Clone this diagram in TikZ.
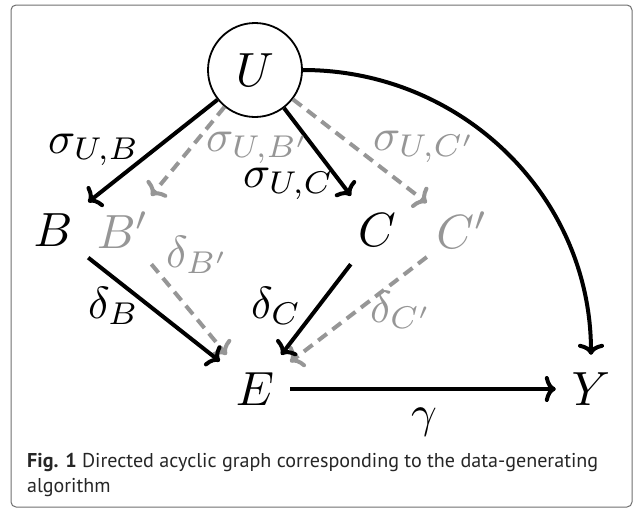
\documentclass[tikz,border=0pt]{standalone}
\usepackage{fontspec}
\newfontfamily\capfont{PT Sans}
\usetikzlibrary{arrows.meta}
\definecolor{lgray}{RGB}{150,150,150}
\definecolor{framecol}{RGB}{110,110,110}
\newcommand{\mtx}[1]{\scalebox{4.8}{$#1$}}
\newcommand{\ltx}[1]{\scalebox{4.5}{$#1$}}
\begin{document}
\begin{tikzpicture}[x=1pt,y=-1pt,
  every node/.style={font=\fontsize{10}{12}\selectfont},
  var/.style={rectangle, minimum width=70pt, minimum height=68pt, inner sep=0pt},
  gvar/.style={var, text=lgray},
  lab/.style={inner sep=0pt, anchor=base west},
  glab/.style={lab, text=lgray},
  tip/.style={-{Computer Modern Rightarrow[length=11pt,width=26pt]}},
  solidarr/.style={line width=4pt, tip},
  dasharr/.style={line width=4pt, lgray, dash pattern=on 11pt off 7pt, tip},
  capstyle/.style={anchor=base west, inner sep=0pt, text=black!85, font=\capfont\fontsize{20}{24}\selectfont},
]
\useasboundingbox (0,0) rectangle (633,509);
\draw[framecol, line width=1pt, rounded corners=5pt] (11,5) rectangle (632,507);

\node[circle, draw, line width=1.8pt, minimum size=94pt, inner sep=0pt] (U) at (255,70) {\mtx{U}};
\node[var] (B) at (53,230) {\mtx{B}};
\node[gvar] (Bp) at (123,230) {\mtx{B'}};
\node[var] (C) at (377,230) {\mtx{C}};
\node[gvar] (Cp) at (462,230) {\mtx{C'}};
\node[var] (E) at (255,389) {\mtx{E}};
\node[var] (Y) at (591,389) {\mtx{Y}};

\draw[dasharr] (U) -- (Bp);
\draw[dasharr] (U) -- (Cp);
\draw[dasharr] (Bp) -- (E);
\draw[dasharr] (Cp) -- (E);
\draw[solidarr] (U) -- (B);
\draw[solidarr] (U) -- (C);
\draw[solidarr] (B) -- (E);
\draw[solidarr] (C) -- (E);
\draw[solidarr] (E) -- (Y);
\draw[solidarr] (U) to[out=0,in=90] (Y);

\node[lab] (sUB) at (48,153) {\ltx{\sigma_{U,B}}};
\node[glab] (sUBp) at (206,151) {\ltx{\sigma_{U,B'}}};
\node[lab] (sUC) at (243,187) {\ltx{\sigma_{U,C}}};
\node[glab] (sUCp) at (373,150) {\ltx{\sigma_{U,C'}}};
\node[glab] (dBp) at (166,267) {\ltx{\delta_{B'}}};
\node[lab] (dB) at (88,318) {\ltx{\delta_B}};
\node[lab] (dC) at (251,318) {\ltx{\delta_C}};
\node[glab] (dCp) at (370,322) {\ltx{\delta_{C'}}};
\node[lab] (g) at (411,427) {\ltx{\gamma}};

\node[capstyle] (cap1) at (27,467) {\resizebox{571pt}{\height}{\textbf{Fig. 1} Directed acyclic graph corresponding to the data-generating}};
\node[capstyle] (cap2) at (27,492) {algorithm};
\end{tikzpicture}
\end{document}
